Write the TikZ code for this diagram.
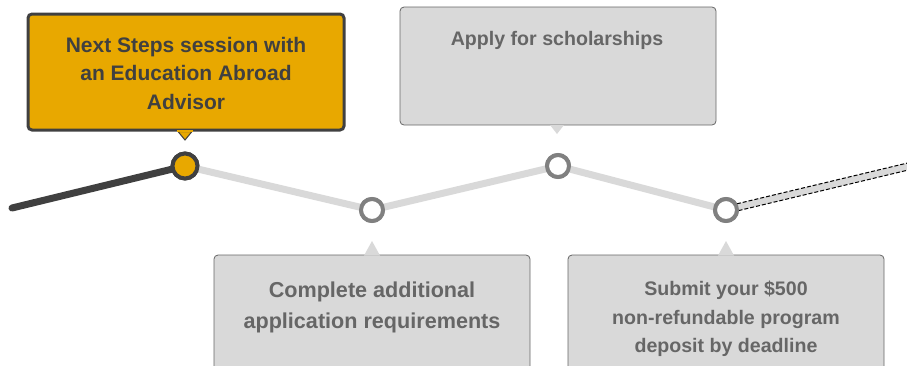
\documentclass[tikz,border=0pt]{standalone}
\usepackage{fontspec}
\setmainfont{Liberation Sans}
\usetikzlibrary{calc}
\definecolor{gold}{HTML}{E8A800}
\definecolor{dark}{HTML}{404040}
\definecolor{lgray}{HTML}{D9D9D9}
\definecolor{mgray}{HTML}{808080}
\definecolor{tgray}{HTML}{666666}
\tikzset{
  x=1pt, y=-1pt,
  boxgold/.style={draw=dark, line width=3pt, fill=gold, rounded corners=4pt, minimum width=316pt, minimum height=116pt, inner sep=0pt},
  boxgray/.style={draw=tgray, line width=0.8pt, fill=lgray, rounded corners=4pt, minimum width=316pt, minimum height=118pt, inner sep=0pt},
  goldtext/.style={font=\fontsize{21}{28.5}\selectfont\bfseries, text=dark, align=center},
  graytext/.style={font=\fontsize{19.6}{28.5}\selectfont\bfseries, text=tgray, align=center},
  track/.style={line width=7pt, lgray},
  donetrack/.style={line width=7pt, dark, line cap=round},
  dot/.style={circle, draw=mgray, line width=4pt, fill=white, minimum size=22pt, inner sep=0pt},
  golddot/.style={circle, draw=dark, line width=4pt, fill=gold, minimum size=25pt, inner sep=0pt},
  dashedge/.style={black, line width=1pt, dash pattern=on 4pt off 2pt},
}
\begin{document}
\begin{tikzpicture}
\useasboundingbox (0,0) rectangle (907,365);
% track
\coordinate (start) at (12,208);
\coordinate (finish) at (910,166);
\node[golddot] (c1) at (185,166) {};
\node[dot] (c2) at (372,210) {};
\node[dot] (c3) at (558,166) {};
\node[dot] (c4) at (726,210) {};
\draw[track] (c1.center) -- (c2.center) -- (c3.center) -- (c4.center);
\draw[track] (c4.center) -- (finish);
\draw[dashedge] ($(c4.center)!3.5pt!90:(finish)$) -- ($(finish)!3.5pt!-90:(c4.center)$);
\draw[dashedge] ($(c4.center)!3.5pt!-90:(finish)$) -- ($(finish)!3.5pt!90:(c4.center)$);
\draw[donetrack] (start) -- (c1.center);
\node[golddot] at (c1) {};
\node[dot] at (c2) {};
\node[dot] at (c3) {};
\node[dot] at (c4) {};
% box 1
\node[boxgold] (b1) at (186,72) {};
\filldraw[fill=gold, draw=dark, line width=1pt] (178,131.5) -- (185,140) -- (192,131.5) -- cycle;
\fill[gold] (177,130) rectangle (193,131.8);
\node[goldtext] (t1) at (186,73) {Next Steps session with\\an Education Abroad\\Advisor};
% box 2
\node[boxgray] (b2) at (558,66) {};
\fill[lgray] (550,125) -- (557,134) -- (564,125) -- cycle;
\node[graytext] (t2) at (557,40) {Apply for scholarships};
% box 3
\node[boxgray] (b3) at (372,314) {};
\fill[lgray] (364,255.5) -- (372,241) -- (380,255.5) -- cycle;
\node[graytext, font=\fontsize{21.6}{31}\selectfont\bfseries] (t3) at (372,307) {Complete additional\\application requirements};
% box 4
\node[boxgray] (b4) at (726,314) {};
\fill[lgray] (718,255.5) -- (726,241) -- (734,255.5) -- cycle;
\node[graytext] (t4) at (726,319) {Submit your \$500\\non-refundable program\\deposit by deadline};
\end{tikzpicture}
\end{document}
